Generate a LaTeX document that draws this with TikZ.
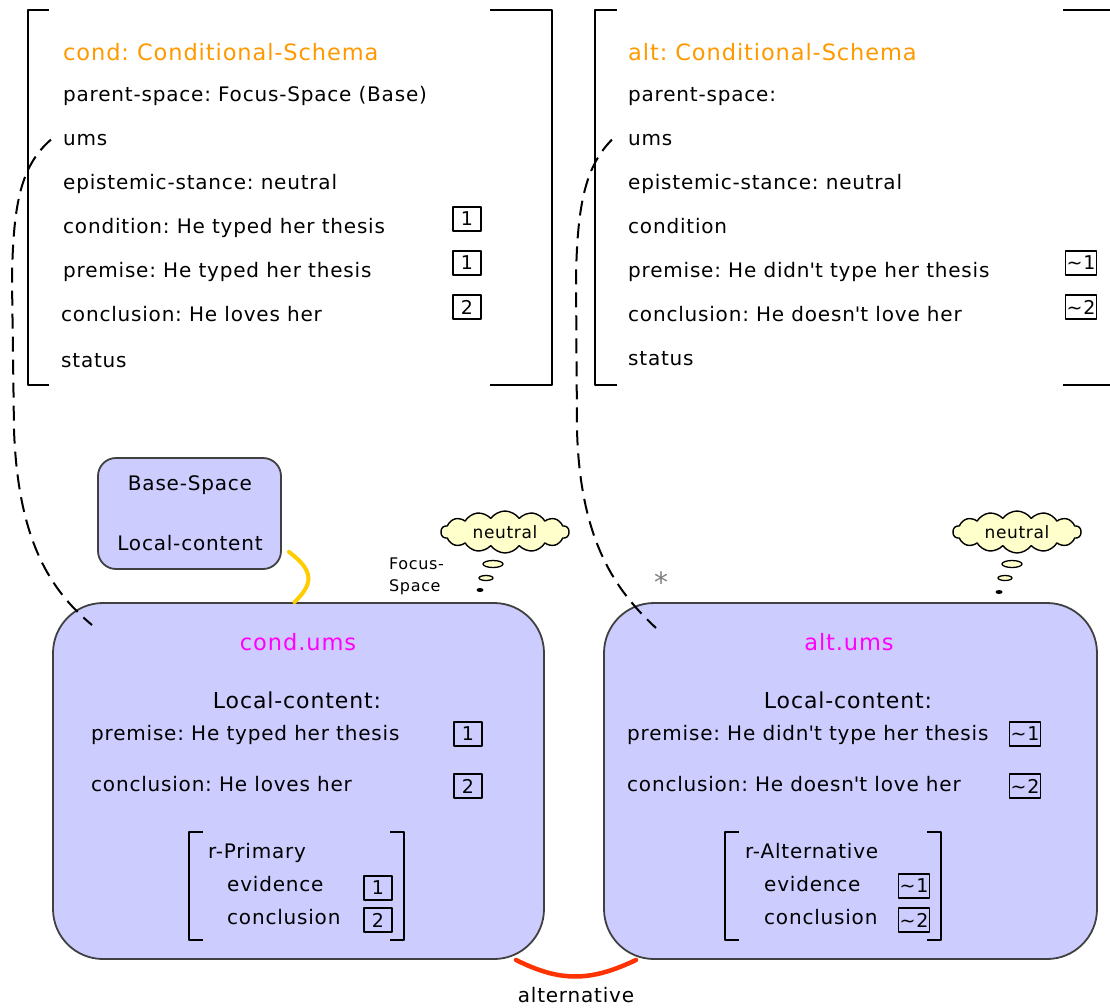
\documentclass[tikz,border=0pt]{standalone}
\usepackage{fontspec}
\setmainfont[LetterSpace=4]{DejaVu Sans}
\usepackage{tikz}
\usetikzlibrary{shapes.symbols,positioning}

\definecolor{spacefill}{HTML}{CCCCFF}
\definecolor{schemaorange}{HTML}{FF9900}
\definecolor{cloudfill}{HTML}{FFFFCC}
\definecolor{linkgold}{HTML}{FFCC00}
\definecolor{altred}{HTML}{FF3300}
\definecolor{umsmagenta}{HTML}{FF00FF}

\begin{document}
\begin{tikzpicture}[x=1pt,y=-1pt,line join=round,
                    every node/.style={font=\fontsize{20}{24}\selectfont,inner sep=0pt}]
  \tikzstyle{attr}=[anchor=base west]
  \tikzstyle{idx}=[draw,line width=1.3pt,minimum width=28pt,minimum height=24pt,
                   inner sep=1pt,font=\fontsize{19}{20}\selectfont]
  \tikzstyle{space}=[draw=black!75,line width=1.8pt,fill=spacefill]
  \tikzstyle{bracket}=[line width=1.5pt]
  \tikzstyle{bubble}=[draw,line width=1.3pt,fill=cloudfill]
  \tikzstyle{thought}=[cloud,draw,line width=1.4pt,fill=cloudfill,cloud puffs=14,
                       cloud puff arc=110,aspect=3.2,minimum width=128pt,minimum height=42pt,
                       font=\fontsize{17}{19}\selectfont]
  \tikzstyle{umslink}=[dashed,line width=2pt,dash pattern=on 15pt off 8pt]

  \useasboundingbox (0,0) rectangle (1110,1007);

  % schema frames
  \draw[bracket] (49,10) -- (28,10) -- (28,385) -- (49,385);
  \draw[bracket] (490,10) -- (552,10) -- (552,385) -- (490,385);
  \draw[bracket] (617,10) -- (595,10) -- (595,385) -- (617,385);
  \begin{scope}
    \clip (0,0) rectangle (1110,1007);
    \draw[bracket] (1063,10) -- (1113,10) -- (1113,385) -- (1063,385);
  \end{scope}

  % cond schema
  \node[attr,text=schemaorange,font=\fontsize{22.5}{26}\selectfont] (chead) at (63,60) {cond:\ Conditional-Schema};
  \node[attr] (cparent) at (63,101) {parent-space:\ Focus-Space (Base)};
  \node[attr] (cums)    at (63,145) {ums};
  \node[attr] (cstance) at (63,189) {epistemic-stance:\ neutral};
  \node[attr] (ccond)   at (63,233) {condition:\ He typed her thesis};
  \node[attr] (cprem)   at (63,277) {premise:\ He typed her thesis};
  \node[attr] (cconc)   at (61,321) {conclusion:\ He loves her};
  \node[attr] (cstat)   at (61,367) {status};
  \node[idx] (ci1) at (467,219) {1};
  \node[idx] (ci2) at (467,263) {1};
  \node[idx] (ci3) at (467,307) {2};

  % alt schema
  \node[attr,text=schemaorange,font=\fontsize{22.5}{26}\selectfont] (ahead) at (628,60) {alt:\ Conditional-Schema};
  \node[attr] (aparent) at (628,101) {parent-space:};
  \node[attr] (aums)    at (628,145) {ums};
  \node[attr] (astance) at (628,189) {epistemic-stance:\ neutral};
  \node[attr] (acond)   at (628,233) {condition};
  \node[attr] (aprem)   at (628,277) {premise:\ He didn\textquotesingle t type her thesis};
  \node[attr] (aconc)   at (628,321) {conclusion:\ He doesn\textquotesingle t love her};
  \node[attr] (astat)   at (628,365) {status};
  \node[idx] (ai1) at (1081,263) {\textasciitilde1};
  \node[idx] (ai2) at (1081,307) {\textasciitilde2};

  % spaces
  \node[space,rounded corners=18pt,minimum width=183pt,minimum height=111pt] (basesp) at (189.5,513.5) {};
  \node (basetitle) at (190,485) {Base-Space};
  \node (baselc)    at (190,543) {Local-content};

  \node[space,rounded corners=50pt,minimum width=491pt,minimum height=356pt] (condums) at (298.5,781) {};
  \node[space,rounded corners=50pt,minimum width=493pt,minimum height=356pt] (altums)  at (850.5,781) {};

  % cond.ums content
  \node[text=umsmagenta,font=\fontsize{22.5}{26}\selectfont] (cutitle) at (298,642) {cond.ums};
  \node[font=\fontsize{22}{26}\selectfont] (culc) at (297,700) {Local-content:};
  \node[attr] (cuprem) at (91,740) {premise:\ He typed her thesis};
  \node[attr] (cuconc) at (91,791) {conclusion:\ He loves her};
  \node[idx] (cui1) at (468,734) {1};
  \node[idx] (cui2) at (468,786) {2};
  \draw[bracket] (203,832) -- (189,832) -- (189,940) -- (203,940);
  \draw[bracket] (390,832) -- (404,832) -- (404,940) -- (390,940);
  \node[attr] (curole) at (208,858) {r-Primary};
  \node[attr] (cuev)   at (227,891) {evidence};
  \node[attr] (cucon)  at (227,924) {conclusion};
  \node[idx] (cui3) at (378,888) {1};
  \node[idx] (cui4) at (378,920) {2};

  % alt.ums content
  \node[text=umsmagenta,font=\fontsize{22.5}{26}\selectfont] (autitle) at (849,642) {alt.ums};
  \node[font=\fontsize{22}{26}\selectfont] (aulc) at (848,700) {Local-content:};
  \node[attr] (auprem) at (627,740) {premise:\ He didn\textquotesingle t type her thesis};
  \node[attr] (auconc) at (627,791) {conclusion:\ He doesn\textquotesingle t love her};
  \node[idx] (aui1) at (1025,734) {\textasciitilde1};
  \node[idx] (aui2) at (1025,786) {\textasciitilde2};
  \draw[bracket] (739,832) -- (725,832) -- (725,940) -- (739,940);
  \draw[bracket] (927,832) -- (941,832) -- (941,940) -- (927,940);
  \node[attr] (aurole) at (745,858) {r-Alternative};
  \node[attr] (auev)   at (764,891) {evidence};
  \node[attr] (aucon)  at (764,924) {conclusion};
  \node[idx] (aui3) at (914,886) {\textasciitilde1};
  \node[idx] (aui4) at (914,920) {\textasciitilde2};

  % stances
  \node[thought] (cloudL) at (505,532) {neutral};
  \draw[bubble] (493,564) ellipse [x radius=10,y radius=3.5];
  \draw[bubble] (486,578) ellipse [x radius=7,y radius=2.5];
  \fill (480,590) ellipse [x radius=3.5,y radius=2];
  \node[thought] (cloudR) at (1017,532) {neutral};
  \draw[bubble] (1012,564) ellipse [x radius=10,y radius=3.5];
  \draw[bubble] (1005,578) ellipse [x radius=7,y radius=2.5];
  \fill (999,592) ellipse [x radius=3.5,y radius=2];

  \node[align=left,anchor=west,font=\fontsize{16}{22}\selectfont] (focus) at (389,576) {Focus-\\Space};
  \node[text=gray,font=\fontsize{28}{30}\selectfont] (star) at (661,582) {*};

  % links
  \coordinate (cin) at (92,625);
  \coordinate (ain) at (656,628);
  \draw[umslink]
    ([xshift=-12pt]cums.west) .. controls (22,165) and (13,200) .. (12,280)
    -- (14,430) .. controls (18,540) and (50,590) .. (cin);
  \draw[umslink]
    ([xshift=-16pt]aums.west) .. controls (587,165) and (577,200) .. (576,280)
    -- (577,430) .. controls (580,540) and (615,590) .. (ain);
  \draw[linkgold,line width=4pt,line cap=round]
    (basesp.south east) ++(7,-18) .. controls (316,572) and (312,585) .. ([xshift=-4pt]condums.north);
  \draw[altred,line width=4.5pt,line cap=round]
    ([xshift=-29pt]condums.south east) .. controls (560,982) and (590,982) .. ([xshift=33pt]altums.south west);
  \node (altlabel) at (576,995) {alternative};
\end{tikzpicture}
\end{document}
